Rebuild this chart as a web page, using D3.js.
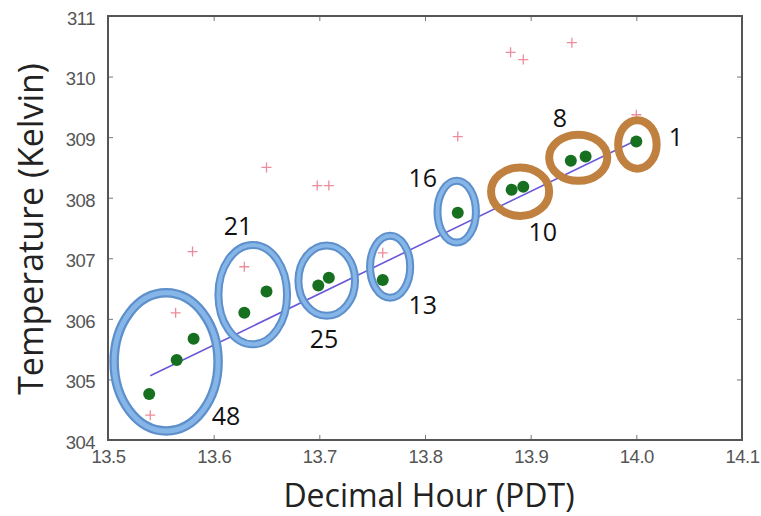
<!DOCTYPE html>
<html>
<head>
<meta charset="utf-8">
<script src="https://cdn.jsdelivr.net/npm/d3@7"></script>
<style>
  html, body { margin: 0; padding: 0; background: #fff; }
  svg { display: block; }
</style>
</head>
<body>
<svg id="chart" width="761" height="516"></svg>
<script>
// ---- data ----
const meanHours = [13.539, 13.565, 13.581, 13.629, 13.650, 13.699, 13.709, 13.760, 13.831, 13.882, 13.893, 13.938, 13.952, 14.000];
const meanTemps = [304.76, 305.32, 305.67, 306.10, 306.45, 306.55, 306.68, 306.64, 307.75, 308.13, 308.18, 308.61, 308.68, 308.93];

const rawHours = [13.540, 13.564, 13.580, 13.629, 13.650, 13.698, 13.709, 13.760, 13.831, 13.881, 13.893, 13.939, 14.000];
const rawTemps = [304.41, 306.10, 307.11, 306.86, 308.50, 308.20, 308.20, 307.09, 309.01, 310.40, 310.28, 310.56, 309.37];

const fitHours = [13.540, 14.000];
const fitTemps = [305.06, 308.95];

const clusterCounts = [48, 21, 25, 13, 16, 10, 8, 1];
const clusterHour   = [13.555, 13.637, 13.707, 13.767, 13.830, 13.890, 13.945, 14.001];
const clusterTemp   = [305.29, 306.40, 306.63, 306.86, 307.77, 308.10, 308.66, 308.88];
const clusterHalfW  = [0.0492, 0.0325, 0.0268, 0.0190, 0.0182, 0.0275, 0.0275, 0.0182]; // hours
const clusterHalfH  = [1.14, 0.82, 0.58, 0.51, 0.51, 0.40, 0.38, 0.40];              // kelvin
const clusterGroup  = ["blue", "blue", "blue", "blue", "blue", "orange", "orange", "orange"];
const labelHour     = [13.6116, 13.623, 13.7044, 13.798, 13.798, 13.9115, 13.9276, 14.0374];
const labelTemp     = [304.40, 307.54, 305.67, 306.23, 308.33, 307.44, 309.31, 309.01];

const xTicks = [13.5, 13.6, 13.7, 13.8, 13.9, 14.0, 14.1];
const yTicks = [304, 305, 306, 307, 308, 309, 310, 311];

// ---- layout ----
const svg = d3.select("#chart");
const L = 108, R = 742, T = 16, B = 440;
const x = d3.scaleLinear().domain([13.5, 14.1]).range([L, R]);
const y = d3.scaleLinear().domain([304, 311]).range([B, T]);

const tickFont = "'Liberation Sans', Arial, sans-serif";
const titleFont = "'Open Sans', 'Noto Sans', sans-serif";

// axes (ticks inward)
function styleAxis(g, showLabels) {
  g.select(".domain").remove();
  g.selectAll(".tick line").attr("stroke", "#777").attr("stroke-width", 1);
  g.selectAll(".tick text")
    .attr("fill", "#555")
    .style("font-family", tickFont)
    .style("font-size", "18.5px")
    .style("letter-spacing", "-0.5px")
    .style("display", showLabels ? null : "none");
}

svg.append("g").attr("transform", `translate(0,${B})`)
  .call(d3.axisBottom(x).tickValues(xTicks).tickFormat(d3.format(".1f")).tickSizeInner(-5).tickSizeOuter(0).tickPadding(10))
  .call(g => styleAxis(g, true));
svg.append("g").attr("transform", `translate(0,${T})`)
  .call(d3.axisTop(x).tickValues(xTicks).tickSizeInner(-5).tickSizeOuter(0))
  .call(g => styleAxis(g, false));
svg.append("g").attr("transform", `translate(${L},0)`)
  .call(d3.axisLeft(y).tickValues(yTicks).tickFormat(d3.format("d")).tickSizeInner(-5).tickSizeOuter(0).tickPadding(13))
  .call(g => styleAxis(g, true))
  .call(g => g.selectAll(".tick text").attr("dy", "0.45em"));
svg.append("g").attr("transform", `translate(${R},0)`)
  .call(d3.axisRight(y).tickValues(yTicks).tickSizeInner(-5).tickSizeOuter(0))
  .call(g => styleAxis(g, false));

// frame
svg.append("rect")
  .attr("x", x(13.5)).attr("y", y(311))
  .attr("width", x(14.1) - x(13.5)).attr("height", y(304) - y(311))
  .attr("fill", "none").attr("stroke", "#555").attr("stroke-width", 2);

// raw points (red plus)
const plusSize = 5;
svg.append("g").selectAll("path").data(rawHours.map((h, i) => [h, rawTemps[i]])).join("path")
  .attr("d", d => `M${x(d[0]) - plusSize},${y(d[1])}H${x(d[0]) + plusSize}M${x(d[0])},${y(d[1]) - plusSize}V${y(d[1]) + plusSize}`)
  .attr("stroke", "#ec8c9a").attr("stroke-width", 1.3).attr("fill", "none");

// fit line
svg.append("path")
  .datum(fitHours.map((h, i) => [h, fitTemps[i]]))
  .attr("d", d3.line().x(d => x(d[0])).y(d => y(d[1])))
  .attr("stroke", "#6a58d8").attr("stroke-width", 1.6).attr("fill", "none");

// ellipses
const clusters = clusterCounts.map((c, i) => ({
  count: c, h: clusterHour[i], t: clusterTemp[i], hw: clusterHalfW[i], hh: clusterHalfH[i],
  group: clusterGroup[i], lh: labelHour[i], lt: labelTemp[i]
}));
const eg = svg.append("g");
clusters.forEach(c => {
  const cx = x(c.h), cy = y(c.t);
  const rx = x(c.h + c.hw) - cx, ry = cy - y(c.t + c.hh);
  const big = c.count === 48;
  if (c.group === "blue") {
    eg.append("ellipse").attr("cx", cx).attr("cy", cy).attr("rx", rx).attr("ry", ry)
      .attr("fill", "none").attr("stroke", "#5d8fcb").attr("stroke-width", big ? 9.5 : 8);
    eg.append("ellipse").attr("cx", cx).attr("cy", cy).attr("rx", rx).attr("ry", ry)
      .attr("fill", "none").attr("stroke", "#86b5e8").attr("stroke-width", big ? 5 : 4);
  } else {
    eg.append("ellipse").attr("cx", cx).attr("cy", cy).attr("rx", rx).attr("ry", ry)
      .attr("fill", "none").attr("stroke", "#c0803f").attr("stroke-width", 8);
  }
});

// mean points (green)
svg.append("g").selectAll("circle").data(meanHours.map((h, i) => [h, meanTemps[i]])).join("circle")
  .attr("cx", d => x(d[0])).attr("cy", d => y(d[1])).attr("r", 6)
  .attr("fill", "#17701f");

// count labels
svg.append("g").selectAll("text").data(clusters).join("text")
  .attr("x", d => x(d.lh)).attr("y", d => y(d.lt))
  .attr("text-anchor", "middle").attr("dy", "0.36em")
  .style("font-family", titleFont).style("font-size", "25px").attr("fill", "#111")
  .text(d => d.count);

// axis titles
svg.append("text")
  .attr("x", 429).attr("y", 507)
  .attr("text-anchor", "middle")
  .style("font-family", titleFont).style("font-size", "32px").attr("fill", "#222")
  .text("Decimal Hour (PDT)");
svg.append("text")
  .attr("transform", "translate(43,229) rotate(-90)")
  .attr("text-anchor", "middle")
  .style("font-family", titleFont).style("font-size", "34px").attr("fill", "#222")
  .text("Temperature (Kelvin)");
</script>
</body>
</html>
